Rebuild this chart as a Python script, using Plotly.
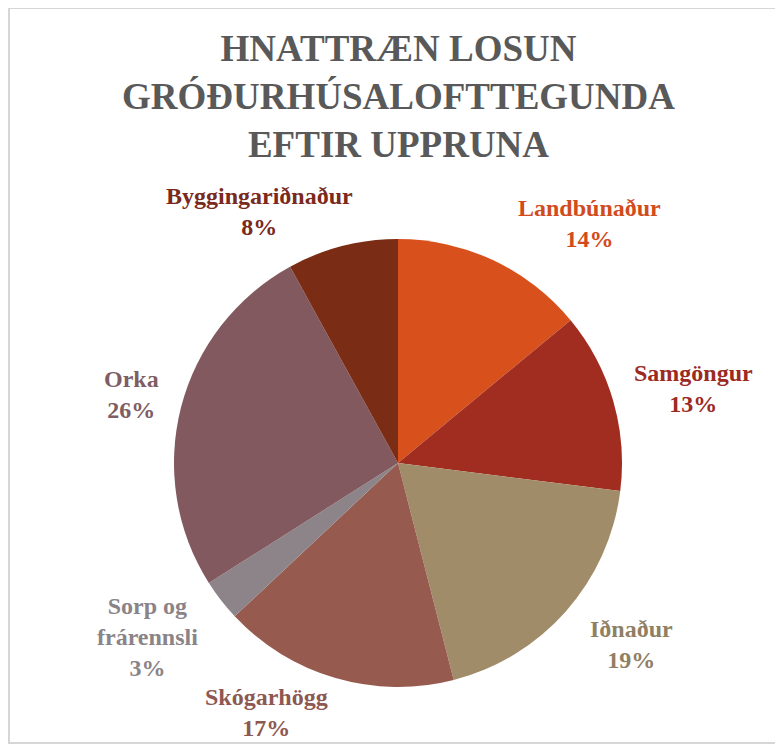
import math
import plotly.graph_objects as go

# ---- data ----
categories = ["Landbúnaður", "Samgöngur", "Iðnaður", "Skógarhögg",
              "Sorp og frárennsli", "Orka", "Byggingariðnaður"]
label_lines = ["Landbúnaður", "Samgöngur", "Iðnaður", "Skógarhögg",
               "Sorp og<br>frárennsli", "Orka", "Byggingariðnaður"]
shares = [14, 13, 19, 17, 3, 26, 8]
title_lines = ["HNATTRÆN LOSUN", "GRÓÐURHÚSALOFTTEGUNDA", "EFTIR UPPRUNA"]

# ---- style ----
slice_colors = ["#D8511D", "#A02D1F", "#A18C6A", "#965A4F", "#8D8489", "#81595F", "#7A2C15"]
label_colors = ["#D24B1C", "#9C2A24", "#8F7F63", "#8E5852", "#8A8488", "#7E5D64", "#7A2A1C"]
label_nudge = [13.5, 2.0, -3.5, 11.5, 3.0, 0.0, -14.5]
label_rfac = [1.37, 1.36, 1.32, 1.26, 1.36, 1.23, 1.28]
SERIF = "Liberation Serif, Times New Roman, serif"

W, H = 783, 749
OFF = 8  # page body margin
cx, cy, R = 398, 463, 224  # pie centre / radius in screen pixels


def px2x(p):
    return (p - OFF) / W


def px2y(p):
    return 1 - (p - OFF) / H


fig = go.Figure(go.Pie(
    labels=categories,
    values=shares,
    sort=False,
    direction="clockwise",
    rotation=0,
    textinfo="none",
    hoverinfo="label+percent",
    marker=dict(colors=slice_colors, line=dict(width=0)),
    domain=dict(x=[px2x(cx - R), px2x(cx + R)],
                y=[px2y(cy + R), px2y(cy - R)]),
    showlegend=False,
))

total = sum(shares)
cum = 0
annotations = []
for i, v in enumerate(shares):
    mid = (cum + v / 2) / total * 360.0
    cum += v
    a = math.radians(mid + label_nudge[i])
    d = R * label_rfac[i]
    px = cx + d * math.sin(a)
    py = cy - d * math.cos(a)
    pct = round(v / total * 100)
    annotations.append(dict(
        x=px2x(px), y=px2y(py), xref="paper", yref="paper",
        xanchor="center", yanchor="middle", showarrow=False,
        text=f"{label_lines[i]}<br>{pct}%",
        font=dict(family=SERIF, size=24, color=label_colors[i], weight="bold"),
        align="center",
    ))

annotations.append(dict(
    x=px2x(398), y=px2y(97), xref="paper", yref="paper",
    xanchor="center", yanchor="middle", showarrow=False,
    text="<br>".join(title_lines),
    font=dict(family=SERIF, size=37, color="#595959", weight="bold"),
    align="center",
))

fig.update_layout(
    width=W, height=H,
    margin=dict(l=0, r=0, t=0, b=0),
    paper_bgcolor="white",
    plot_bgcolor="white",
    annotations=annotations,
    shapes=[dict(type="rect", xref="paper", yref="paper",
                 x0=px2x(9), x1=px2x(778), y0=px2y(743), y1=px2y(8),
                 line=dict(color="#D6D6D6", width=2), fillcolor="rgba(0,0,0,0)")],
)

fig.write_html("out.html")
